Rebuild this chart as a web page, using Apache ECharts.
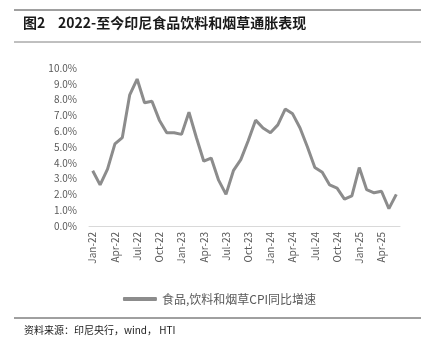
<!DOCTYPE html>
<html>
<head>
<meta charset="utf-8">
<script src="https://cdn.jsdelivr.net/npm/echarts@6/dist/echarts.min.js"></script>
<style>
  html, body { margin: 0; padding: 0; background: #fff; }
  #main { width: 439px; height: 351px; }
</style>
</head>
<body>
<div id="main"></div>
<script>
// month labels, Jan-22 .. Jun-25
const months = [
  'Jan-22', 'Feb-22', 'Mar-22', 'Apr-22', 'May-22', 'Jun-22', 'Jul-22', 'Aug-22', 'Sep-22', 'Oct-22', 'Nov-22', 'Dec-22',
  'Jan-23', 'Feb-23', 'Mar-23', 'Apr-23', 'May-23', 'Jun-23', 'Jul-23', 'Aug-23', 'Sep-23', 'Oct-23', 'Nov-23', 'Dec-23',
  'Jan-24', 'Feb-24', 'Mar-24', 'Apr-24', 'May-24', 'Jun-24', 'Jul-24', 'Aug-24', 'Sep-24', 'Oct-24', 'Nov-24', 'Dec-24',
  'Jan-25', 'Feb-25', 'Mar-25', 'Apr-25', 'May-25', 'Jun-25'
];

// 食品,饮料和烟草CPI同比增速 (%)
const foodCpi = [
  3.5, 2.6, 3.6, 5.2, 5.6, 8.3, 9.3, 7.8, 7.9, 6.7, 5.9, 5.9,
  5.8, 7.2, 5.6, 4.1, 4.3, 2.9, 2.0, 3.5, 4.2, 5.4, 6.7, 6.2,
  5.9, 6.4, 7.4, 7.1, 6.2, 5.0, 3.7, 3.4, 2.6, 2.4, 1.7, 1.9,
  3.7, 2.3, 2.1, 2.2, 1.1, 2.0
];

const seriesName = '食品,饮料和烟草CPI同比增速';
const font = '"Noto Sans CJK SC", "Noto Sans", sans-serif';

const chart = echarts.init(document.getElementById('main'));

chart.setOption({
  animation: false,
  textStyle: { fontFamily: font },
  grid: { left: 89, right: 39, top: 68, bottom: 125 },
  graphic: [
    { type: 'line', shape: { x1: 14, y1: 10, x2: 421, y2: 10 }, style: { stroke: '#404040', lineWidth: 1 } },
    { type: 'text', left: 23, top: 16,
      style: { text: '图2    2022-至今印尼食品饮料和烟草通胀表现', font: 'bold 14px ' + font, fill: '#1a1a1a' } },
    { type: 'line', shape: { x1: 14, y1: 42, x2: 421, y2: 42 }, style: { stroke: '#808080', lineWidth: 1 } },
    { type: 'line', shape: { x1: 14, y1: 318, x2: 421, y2: 318 }, style: { stroke: '#404040', lineWidth: 1 } },
    { type: 'text', left: 24, top: 325,
      style: { text: '资料来源：印尼央行，wind， HTI', font: '10px ' + font, fill: '#1a1a1a' } }
  ],
  legend: {
    bottom: 41,
    left: 'center',
    itemWidth: 34,
    itemHeight: 4,
    itemGap: 4,
    textStyle: { color: '#595959', fontSize: 12, fontFamily: font },
    data: [{ name: seriesName, icon: 'roundRect' }]
  },
  xAxis: {
    type: 'category',
    data: months,
    boundaryGap: true,
    axisLine: { lineStyle: { color: '#d9d9d9' } },
    axisTick: { interval: 2, length: 4, lineStyle: { color: '#d9d9d9' } },
    axisLabel: { interval: 2, rotate: 90, color: '#595959', fontSize: 10, margin: 6 }
  },
  yAxis: {
    type: 'value',
    min: 0,
    max: 10,
    interval: 1,
    axisLine: { show: false },
    axisTick: { show: false },
    splitLine: { show: false },
    axisLabel: {
      color: '#595959',
      fontSize: 10,
      margin: 12,
      formatter: v => v.toFixed(1) + '%'
    }
  },
  series: [{
    name: seriesName,
    type: 'line',
    data: foodCpi,
    symbol: 'none',
    lineStyle: { color: '#8c8c8c', width: 3 },
    itemStyle: { color: '#8c8c8c' }
  }]
});
</script>
</body>
</html>
